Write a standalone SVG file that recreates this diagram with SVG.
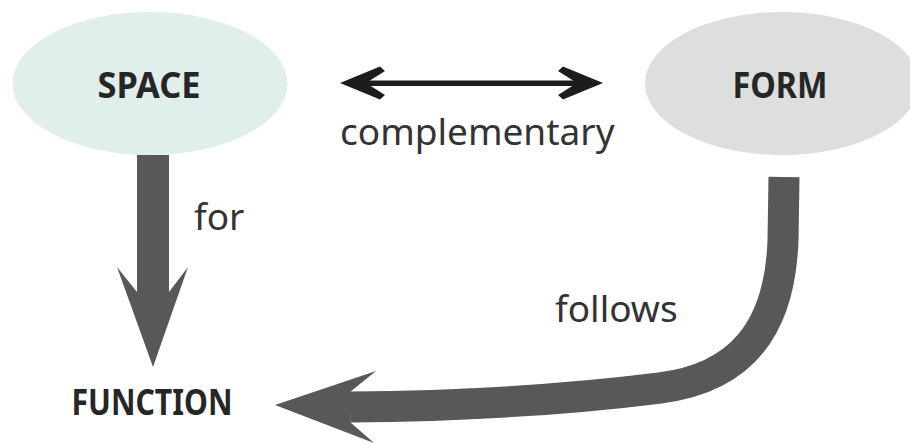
<svg xmlns="http://www.w3.org/2000/svg" width="910" height="444" viewBox="0 0 910 444">
  <style>
    .node-label { font-family: "Noto Sans", "Liberation Sans", sans-serif; font-weight: bold; font-size: 36px; fill: #262626; text-anchor: middle; }
    .edge-label { font-family: "Noto Sans", "Liberation Sans", sans-serif; font-size: 37px; fill: #333333; }
    .big-arrow { fill: #58585a; }
    .big-stroke { fill: none; stroke: #58585a; stroke-width: 31; }
    .thin-arrow { fill: #1c1c1c; }
  </style>
  <rect width="910" height="444" fill="#ffffff"/>
  <g id="node-space">
    <ellipse cx="150" cy="83.5" rx="137.5" ry="71.5" fill="#e1efec"/>
    <text class="node-label" x="149" y="98" textLength="103" lengthAdjust="spacingAndGlyphs">SPACE</text>
  </g>
  <g id="node-form">
    <ellipse cx="782" cy="83.5" rx="137" ry="71.5" fill="#dcdfdd"/>
    <text class="node-label" x="780" y="98" textLength="95" lengthAdjust="spacingAndGlyphs">FORM</text>
  </g>
  <g id="node-function">
    <text class="node-label" x="152" y="415" textLength="161" lengthAdjust="spacingAndGlyphs">FUNCTION</text>
  </g>
  <g id="connectors">
    <g id="edge-complementary">
      <rect x="366" y="80.5" width="212" height="5.5" class="thin-arrow"/>
      <polygon class="thin-arrow" points="340,83 380,66.5 385,71 366,83 385,95 380,99.5"/>
      <polygon class="thin-arrow" points="603,83 563,66.5 558,71 577,83 558,95 563,99.5"/>
      <text class="edge-label" x="340" y="145">complementary</text>
    </g>
    <g id="edge-for">
      <polygon class="big-arrow" points="137,155 169,155 169,292 188,267 153,367 117,267 137,292"/>
      <text class="edge-label" x="194" y="230">for</text>
    </g>
    <g id="edge-follows">
      <path class="big-stroke" d="M784,177 L783,240 C780,330 740,378 660,388 C580,398 480,406 350,407"/>
      <polygon class="big-arrow" points="275,405 376,371 350,392 350,422 374,443"/>
      <text class="edge-label" x="555" y="322">follows</text>
    </g>
  </g>
</svg>
